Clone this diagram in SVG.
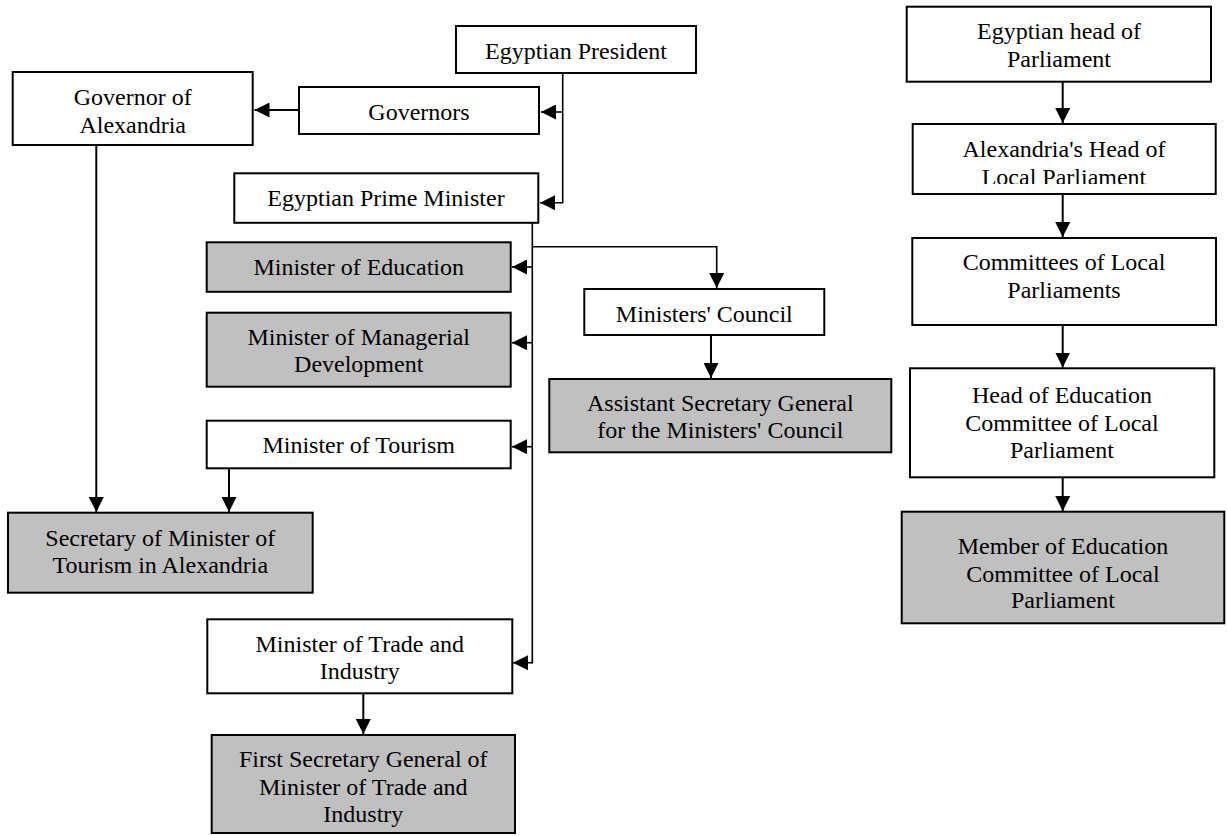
<svg xmlns="http://www.w3.org/2000/svg" width="1227" height="836" viewBox="0 0 1227 836">
  <style>
    .box { fill: #ffffff; stroke: #000000; stroke-width: 2; }
    .shaded { fill: #c0c0c0; stroke: #000000; stroke-width: 2; }
    .lbl { font-family: "Liberation Serif", "Times New Roman", serif; font-size: 24px; fill: #000000; text-anchor: middle; }
    .wire { fill: none; stroke: #000000; stroke-width: 2; }
    .thin { fill: none; stroke: #000000; stroke-width: 1.6; }
  </style>
  <defs>
    <marker id="arrow" markerUnits="userSpaceOnUse" markerWidth="15" markerHeight="15" refX="15" refY="7.5" orient="auto">
      <path d="M0,0 L15,7.5 L0,15 z" fill="#000000"/>
    </marker>
    <clipPath id="clipLocalHead">
      <rect x="913" y="124" width="303" height="60"/>
    </clipPath>
  </defs>

  <rect width="1227" height="836" fill="#ffffff"/>

  <!-- connectors -->
  <g id="connectors">
    <!-- President branches -->
    <polyline class="thin" points="562.7,73 562.7,202.7 540,202.7" marker-end="url(#arrow)"/>
    <line class="thin" x1="562.7" y1="112" x2="541" y2="112" marker-end="url(#arrow)"/>
    <!-- Governors to Governor of Alexandria -->
    <line class="wire" x1="299" y1="110" x2="254.5" y2="110" marker-end="url(#arrow)"/>
    <!-- Governor of Alexandria down to Secretary -->
    <line class="wire" x1="96.3" y1="145" x2="96.3" y2="512" marker-end="url(#arrow)"/>
    <!-- Minister of Tourism down to Secretary -->
    <line class="wire" x1="229" y1="468" x2="229" y2="512" marker-end="url(#arrow)"/>
    <!-- Prime Minister trunk -->
    <line class="thin" x1="532.3" y1="223" x2="532.3" y2="663.5"/>
    <line class="thin" x1="532.3" y1="267" x2="512" y2="267" marker-end="url(#arrow)"/>
    <line class="thin" x1="532.3" y1="342.7" x2="512" y2="342.7" marker-end="url(#arrow)"/>
    <line class="thin" x1="532.3" y1="446.7" x2="512" y2="446.7" marker-end="url(#arrow)"/>
    <line class="thin" x1="532.3" y1="662.7" x2="513" y2="662.7" marker-end="url(#arrow)"/>
    <!-- Prime Minister to Ministers' Council -->
    <polyline class="thin" points="532.3,246.7 716.7,246.7 716.7,288" marker-end="url(#arrow)"/>
    <!-- Ministers' Council to Assistant Secretary -->
    <line class="wire" x1="711" y1="335" x2="711" y2="378" marker-end="url(#arrow)"/>
    <!-- Trade to First Secretary -->
    <line class="wire" x1="363.3" y1="693" x2="363.3" y2="734" marker-end="url(#arrow)"/>
    <!-- Parliament chain -->
    <line class="wire" x1="1062.7" y1="82" x2="1062.7" y2="123" marker-end="url(#arrow)"/>
    <line class="wire" x1="1062.7" y1="194" x2="1062.7" y2="237" marker-end="url(#arrow)"/>
    <line class="wire" x1="1062.7" y1="325" x2="1062.7" y2="367.5" marker-end="url(#arrow)"/>
    <line class="wire" x1="1062.7" y1="477" x2="1062.7" y2="511" marker-end="url(#arrow)"/>
  </g>

  <!-- executive branch -->
  <g id="president">
    <rect class="box" x="456" y="26" width="240" height="47"/>
    <text class="lbl" x="576" y="58.5">Egyptian President</text>
  </g>
  <g id="governors">
    <rect class="box" x="299" y="87" width="240" height="47"/>
    <text class="lbl" x="419" y="119.5">Governors</text>
  </g>
  <g id="governor-alexandria">
    <rect class="box" x="12.7" y="72" width="240" height="73"/>
    <text class="lbl" x="132.7" y="105">Governor of</text>
    <text class="lbl" x="132.7" y="133">Alexandria</text>
  </g>
  <g id="prime-minister">
    <rect class="box" x="234.3" y="173.3" width="304" height="49.5"/>
    <text class="lbl" x="386" y="205.5">Egyptian Prime Minister</text>
  </g>
  <g id="minister-education">
    <rect class="shaded" x="206.7" y="242.3" width="304" height="49.5"/>
    <text class="lbl" x="358.7" y="275">Minister of Education</text>
  </g>
  <g id="minister-managerial">
    <rect class="shaded" x="206.7" y="312.7" width="304" height="74"/>
    <text class="lbl" x="358.7" y="345">Minister of Managerial</text>
    <text class="lbl" x="358.7" y="372">Development</text>
  </g>
  <g id="minister-tourism">
    <rect class="box" x="206.7" y="420.7" width="304" height="47.6"/>
    <text class="lbl" x="358.7" y="453">Minister of Tourism</text>
  </g>
  <g id="secretary-tourism">
    <rect class="shaded" x="8" y="512.7" width="304.7" height="80"/>
    <text class="lbl" x="160.3" y="546">Secretary of Minister of</text>
    <text class="lbl" x="160.3" y="573">Tourism in Alexandria</text>
  </g>
  <g id="ministers-council">
    <rect class="box" x="584.3" y="289" width="240" height="46"/>
    <text class="lbl" x="704.3" y="321.5">Ministers' Council</text>
  </g>
  <g id="assistant-secretary">
    <rect class="shaded" x="549.3" y="379" width="342" height="73.3"/>
    <text class="lbl" x="720.3" y="411">Assistant Secretary General</text>
    <text class="lbl" x="720.3" y="437.5">for the Ministers' Council</text>
  </g>
  <g id="minister-trade">
    <rect class="box" x="207.3" y="619.3" width="305" height="74"/>
    <text class="lbl" x="359.8" y="651.7">Minister of Trade and</text>
    <text class="lbl" x="359.8" y="679">Industry</text>
  </g>
  <g id="first-secretary">
    <rect class="shaded" x="211.7" y="735" width="303.3" height="98"/>
    <text class="lbl" x="363.3" y="766.7">First Secretary General of</text>
    <text class="lbl" x="363.3" y="795">Minister of Trade and</text>
    <text class="lbl" x="363.3" y="822.3">Industry</text>
  </g>

  <!-- legislative branch -->
  <g id="head-parliament">
    <rect class="box" x="906.7" y="6.7" width="304.3" height="75"/>
    <text class="lbl" x="1059" y="39.3">Egyptian head of</text>
    <text class="lbl" x="1059" y="66.7">Parliament</text>
  </g>
  <g id="alexandria-head">
    <rect class="box" x="912.7" y="124" width="303" height="70"/>
    <g clip-path="url(#clipLocalHead)">
      <text class="lbl" x="1064" y="156.7">Alexandria's Head of</text>
      <text class="lbl" x="1064" y="185">Local Parliament</text>
    </g>
  </g>
  <g id="committees">
    <rect class="box" x="912.3" y="238" width="303.7" height="87"/>
    <text class="lbl" x="1064" y="270">Committees of Local</text>
    <text class="lbl" x="1064" y="297.7">Parliaments</text>
  </g>
  <g id="head-education-committee">
    <rect class="box" x="910" y="368.3" width="304.3" height="109"/>
    <text class="lbl" x="1062" y="402.7">Head of Education</text>
    <text class="lbl" x="1062" y="430.7">Committee of Local</text>
    <text class="lbl" x="1062" y="457.5">Parliament</text>
  </g>
  <g id="member-education-committee">
    <rect class="shaded" x="901.7" y="511.7" width="322.6" height="111.6"/>
    <text class="lbl" x="1063" y="554.3">Member of Education</text>
    <text class="lbl" x="1063" y="581.7">Committee of Local</text>
    <text class="lbl" x="1063" y="608.3">Parliament</text>
  </g>
</svg>
